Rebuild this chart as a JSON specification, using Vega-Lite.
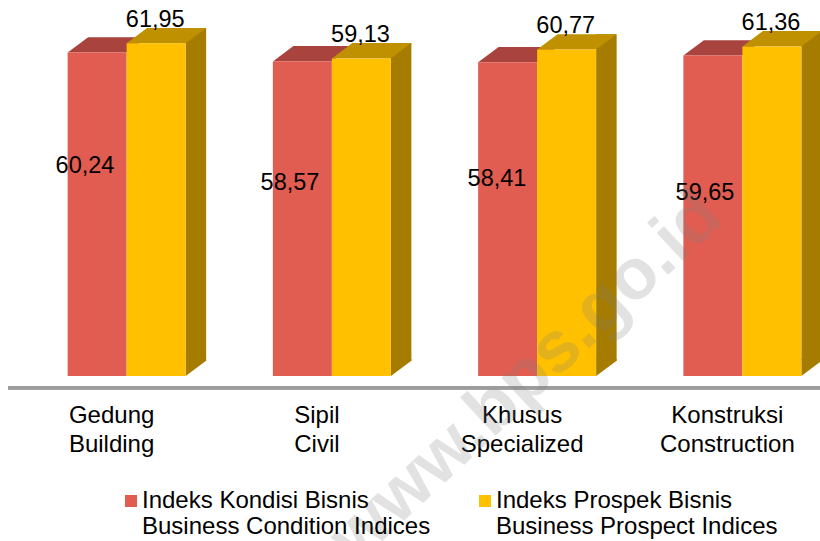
{
"$schema":"https://vega.github.io/schema/vega-lite/v6.json",
"width":820,"height":376,"autosize":"none",
"padding":{"left":0,"top":0,"right":0,"bottom":165},
"background":"white",
"config":{"view":{"stroke":null},"font":"Liberation Sans"},
"data":{"values":[
{"cat":"Gedung\nBuilding","series":"Indeks Kondisi Bisnis\nBusiness Condition Indices","value":60.24,"label":"60,24"},
{"cat":"Sipil\nCivil","series":"Indeks Kondisi Bisnis\nBusiness Condition Indices","value":58.57,"label":"58,57"},
{"cat":"Khusus\nSpecialized","series":"Indeks Kondisi Bisnis\nBusiness Condition Indices","value":58.41,"label":"58,41"},
{"cat":"Konstruksi\nConstruction","series":"Indeks Kondisi Bisnis\nBusiness Condition Indices","value":59.65,"label":"59,65"},
{"cat":"Gedung\nBuilding","series":"Indeks Prospek Bisnis\nBusiness Prospect Indices","value":61.95,"label":"61,95"},
{"cat":"Sipil\nCivil","series":"Indeks Prospek Bisnis\nBusiness Prospect Indices","value":59.13,"label":"59,13"},
{"cat":"Khusus\nSpecialized","series":"Indeks Prospek Bisnis\nBusiness Prospect Indices","value":60.77,"label":"60,77"},
{"cat":"Konstruksi\nConstruction","series":"Indeks Prospek Bisnis\nBusiness Prospect Indices","value":61.36,"label":"61,36"}
]},
"encoding":{
"x":{"field":"cat","type":"nominal","sort":null,"title":null,
 "scale":{"range":[24,845],"paddingInner":0,"paddingOuter":0},
 "axis":{"orient":"bottom","domain":false,"ticks":false,"grid":false,"labelAngle":0,"labelOffset":-15,"labelPadding":46,"labelFontSize":24,"labelColor":"#000000","labelFont":"Liberation Sans","labelLineHeight":29,"labelExpr":"split(datum.label,'\\n')","labelLimit":300,"labelBaseline":"alphabetic"}}
},
"layer":[
{"transform":[{"filter":"datum.label==='60,24'||datum.label==='58,57'||datum.label==='58,41'||datum.label==='59,65'"}],
 "mark":{"type":"point","shape":"M-59,0L0,0L20.5,-15.3L-38.5,-15.3Z","size":4,"filled":true,"color":"#A9433D","opacity":1},
 "encoding":{"y":{"field":"value","type":"quantitative","scale":{"domain":[0,70],"nice":false},"axis":null}}},
{"transform":[{"filter":"datum.label==='61,95'||datum.label==='59,13'||datum.label==='60,77'||datum.label==='61,36'"}],
 "mark":{"type":"bar","width":20.5,"xOffset":69.25,"yOffset":-15.3,"color":"#A67C00"},
 "encoding":{"y":{"field":"value","type":"quantitative"}}},
{"transform":[{"filter":"datum.label==='61,95'||datum.label==='59,13'||datum.label==='60,77'||datum.label==='61,36'"}],
 "mark":{"type":"point","shape":"M59,0L79.5,-15.3L79.5,-17L59,-17Z","size":4,"filled":true,"color":"#A67C00","opacity":1},
 "encoding":{"y":{"datum":0,"type":"quantitative"}}},
{"transform":[{"filter":"datum.label==='61,95'||datum.label==='59,13'||datum.label==='60,77'||datum.label==='61,36'"}],
 "mark":{"type":"point","shape":"M0,0L59,0L79.5,-15.3L20.5,-15.3Z","size":4,"filled":true,"color":"#BF9000","opacity":1},
 "encoding":{"y":{"field":"value","type":"quantitative"}}},
{"transform":[{"filter":"datum.label==='60,24'||datum.label==='58,57'||datum.label==='58,41'||datum.label==='59,65'"}],
 "mark":{"type":"bar","width":59,"xOffset":-29.5},
 "encoding":{"y":{"field":"value","type":"quantitative"},
  "color":{"field":"series","type":"nominal","sort":null,
   "scale":{"domain":["Indeks Kondisi Bisnis\nBusiness Condition Indices","Indeks Prospek Bisnis\nBusiness Prospect Indices"],"range":["#E15C51","#FFC000"]},
   "legend":{"orient":"none","legendX":119,"legendY":496,"title":null,"direction":"horizontal","columns":2,"columnPadding":42,
    "symbolType":"M-1,-2.17L1,-2.17L1,-0.17L-1,-0.17Z","symbolSize":144,"symbolStrokeWidth":0,"symbolOpacity":1,
    "labelFontSize":24,"labelColor":"#000000","labelFont":"Liberation Sans","labelLimit":400,"labelOffset":-1,"labelBaseline":"alphabetic",
    "labelExpr":"split(datum.label,'\\n')",
    "encoding":{"labels":{"update":{"lineHeight":{"value":28}}}}}}}},
{"transform":[{"filter":"datum.label==='61,95'||datum.label==='59,13'||datum.label==='60,77'||datum.label==='61,36'"}],
 "mark":{"type":"bar","width":59,"xOffset":29.5},
 "encoding":{"y":{"field":"value","type":"quantitative"},"color":{"field":"series","type":"nominal","sort":null}}},
{"mark":{"type":"rule","color":"#9C9C9C","strokeWidth":3},
 "encoding":{"x":{"value":8},"x2":{"value":820},"y":{"datum":-2.2,"type":"quantitative"}}},
{"transform":[{"filter":"datum.label==='60,24'"}],"mark":{"type":"text","fontSize":23.5,"color":"#000000","dx":-41.6,"dy":114,"baseline":"middle"},"encoding":{"y":{"field":"value","type":"quantitative"},"text":{"field":"label"}}},
{"transform":[{"filter":"datum.label==='58,57'"}],"mark":{"type":"text","fontSize":23.5,"color":"#000000","dx":-41.9,"dy":121.6,"baseline":"middle"},"encoding":{"y":{"field":"value","type":"quantitative"},"text":{"field":"label"}}},
{"transform":[{"filter":"datum.label==='58,41'"}],"mark":{"type":"text","fontSize":23.5,"color":"#000000","dx":-40.1,"dy":116.7,"baseline":"middle"},"encoding":{"y":{"field":"value","type":"quantitative"},"text":{"field":"label"}}},
{"transform":[{"filter":"datum.label==='59,65'"}],"mark":{"type":"text","fontSize":23.5,"color":"#000000","dx":-37.4,"dy":137.6,"baseline":"middle"},"encoding":{"y":{"field":"value","type":"quantitative"},"text":{"field":"label"}}},
{"transform":[{"filter":"datum.label==='61,95'||datum.label==='59,13'||datum.label==='60,77'||datum.label==='61,36'"}],"mark":{"type":"text","fontSize":23.5,"color":"#000000","dx":28.6,"dy":-23.5,"baseline":"middle"},"encoding":{"y":{"field":"value","type":"quantitative"},"text":{"field":"label"}}},
{"transform":[{"filter":"datum.label==='58,41'"}],"mark":{"type":"text","text":"www.bps.go.id","fontSize":72,"fontWeight":"bold","font":"Liberation Sans","angle":317,"align":"center","baseline":"middle","color":"#808080","opacity":0.22,"dx":-16,"dy":1},
 "encoding":{"y":{"datum":2,"type":"quantitative"}}}
]
}
